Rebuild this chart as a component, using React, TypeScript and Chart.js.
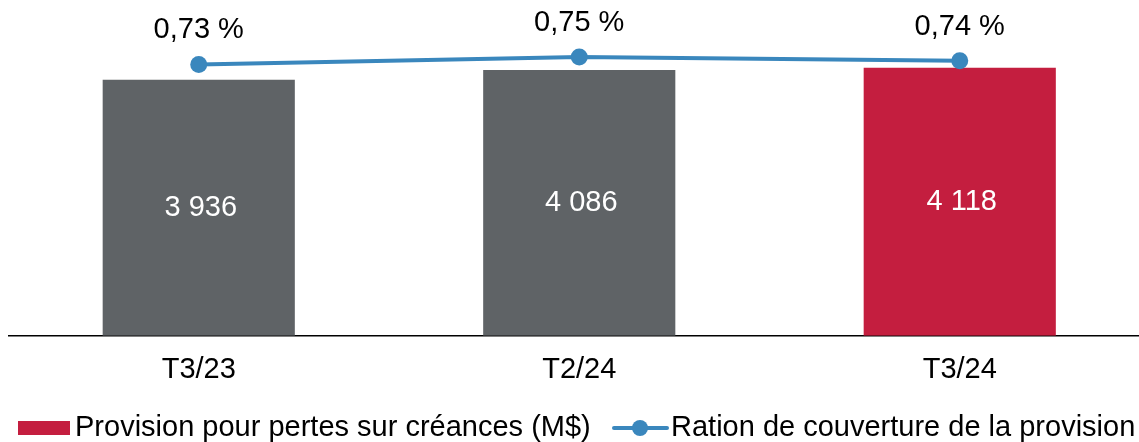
import React, { useEffect, useRef } from 'react';
import { Chart, registerables } from 'chart.js';

Chart.register(...registerables);

const categories = ['T3/23', 'T2/24', 'T3/24'];
const provisionValues = [3936, 4086, 4118];
const coverageValues = [0.73, 0.75, 0.74];
const barColors = ['#5f6366', '#5f6366', '#c41e3f'];
const legendLabels = ['Provision pour pertes sur créances (M$)', 'Ration de couverture de la provision'];

const FONT = '"Liberation Sans", Arial, sans-serif';
const FS = 29;
const RED = '#c41e3f';
const BLUE = '#3a87bd';

const fmtInt = (v: number) => String(v).replace(/\B(?=(\d{3})+(?!\d))/g, ' ');
const fmtPct = (v: number) => v.toFixed(2).replace('.', ',') + ' %';

const labelsPlugin = {
  id: 'customLabels',
  afterDatasetsDraw(chart: any) {
    const ctx = chart.ctx;
    ctx.save();
    ctx.font = `${FS}px ${FONT}`;
    ctx.textAlign = 'center';
    ctx.textBaseline = 'middle';
    const barMeta = chart.getDatasetMeta(0);
    barMeta.data.forEach((el: any, i: number) => {
      ctx.fillStyle = '#ffffff';
      ctx.fillText(fmtInt(provisionValues[i]), el.x + 2, (el.y + el.base) / 2);
    });
    const lineMeta = chart.getDatasetMeta(1);
    lineMeta.data.forEach((el: any, i: number) => {
      ctx.fillStyle = '#000000';
      ctx.fillText(fmtPct(coverageValues[i]), el.x, el.y - 34);
    });

    // legend
    const ly = 428;
    ctx.textAlign = 'left';
    ctx.fillStyle = RED;
    ctx.fillRect(18, ly - 7, 52, 14);
    ctx.fillStyle = '#000000';
    ctx.fillText(legendLabels[0], 75, ly);

    ctx.strokeStyle = BLUE;
    ctx.lineWidth = 4;
    ctx.lineCap = 'round';
    ctx.beginPath();
    ctx.moveTo(614, ly);
    ctx.lineTo(667, ly);
    ctx.stroke();
    ctx.fillStyle = BLUE;
    ctx.beginPath();
    ctx.arc(640, ly, 8, 0, Math.PI * 2);
    ctx.fill();
    ctx.fillStyle = '#000000';
    ctx.fillText(legendLabels[1], 671, ly);
    ctx.restore();
  },
};

export default function App() {
  const ref = useRef<HTMLCanvasElement>(null);
  useEffect(() => {
    document.body.style.margin = '0';
    document.body.style.overflow = 'hidden';
    const chart = new Chart(ref.current!, {
      type: 'bar',
      data: {
        labels: categories,
        datasets: [
          {
            type: 'bar',
            data: provisionValues,
            backgroundColor: barColors,
            yAxisID: 'y',
            order: 1,
            barPercentage: 0.505,
            categoryPercentage: 1,
          },
          {
            type: 'line',
            data: coverageValues,
            borderColor: BLUE,
            backgroundColor: BLUE,
            borderWidth: 4,
            pointRadius: 8.5,
            pointBorderWidth: 0,
            pointBackgroundColor: BLUE,
            yAxisID: 'y2',
            order: 0,
            tension: 0,
          },
        ] as any,
      },
      options: {
        responsive: false,
        animation: false,
        layout: { autoPadding: false, padding: { left: 8.5, right: 0, top: 10.5, bottom: 38.5 } },
        plugins: { legend: { display: false }, tooltip: { enabled: false } },
        scales: {
          x: {
            grid: { display: false, drawTicks: false },
            border: { display: true, color: '#000000', width: 1.5 },
            ticks: { color: '#000000', font: { family: FONT, size: FS }, padding: 16.5, maxRotation: 0 },
          },
          y: { display: false, min: 0, max: 5000 },
          y2: { display: false, min: 0, max: 0.875, position: 'right' },
        },
      },
      plugins: [labelsPlugin],
    });
    return () => chart.destroy();
  }, []);
  return (
    <div style={{ width: 1139, height: 442, overflow: 'hidden', position: 'relative' }}>
      <canvas ref={ref} width={1150} height={442} style={{ display: 'block' }} />
    </div>
  );
}
